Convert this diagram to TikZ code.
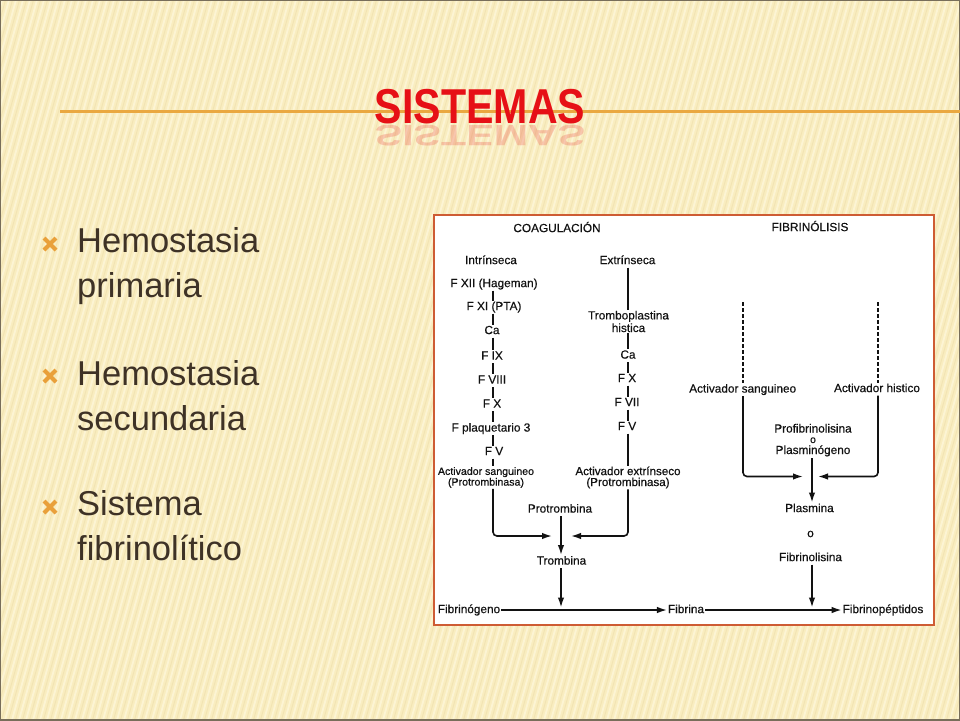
\documentclass[tikz,border=0pt]{standalone}
\usepackage{fontspec}
\setmainfont{Liberation Sans}
\newfontfamily\scanfont[FakeBold=0.45]{Liberation Sans}
\usetikzlibrary{arrows.meta}
\definecolor{bgcol}{RGB}{249,237,192}
\definecolor{stripecol}{RGB}{255,250,226}
\definecolor{stripedark}{RGB}{236,220,168}
\definecolor{titlered}{RGB}{230,16,22}
\definecolor{lineorange}{RGB}{234,168,64}
\definecolor{bulletorange}{RGB}{233,160,58}
\definecolor{bodytext}{RGB}{62,50,38}
\definecolor{framered}{RGB}{206,92,52}
\definecolor{slideedge}{RGB}{120,110,90}
\definecolor{ink}{RGB}{18,18,18}
\begin{document}
\begin{tikzpicture}[x=1pt,y=-1pt,
  dtext/.style={font=\scanfont\fontsize{11.8}{12}\selectfont, text=ink, inner sep=0.8pt, text height=8.6pt, text depth=2.4pt},
  dmulti/.style={font=\scanfont\fontsize{11.8}{12.6}\selectfont, text=ink, inner sep=0.8pt, align=center},
  dline/.style={font=\scanfont\fontsize{11.8}{12}\selectfont, text=ink, inner sep=0pt, anchor=base},
  link/.style={draw=ink, line width=1.6pt},
  arr/.style={draw=ink, line width=1.6pt, -{Latex[length=10pt,width=6.5pt]}},
  dashlink/.style={draw=ink, line width=1.8pt, dash pattern=on 4pt off 2pt},
  btext/.style={font=\fontsize{34.5}{36}\selectfont, text=bodytext, inner sep=0pt, anchor=base west},
  bmark/.style={draw=bulletorange, line width=4pt},
  stripe/.style={draw=stripecol, line width=1.8pt, opacity=0.6},
  stripeb/.style={draw=stripedark, line width=1pt, opacity=0.5},
  titlestyle/.style={font=\fontsize{49}{50}\bfseries\selectfont, text=titlered, anchor=base, inner sep=0pt},
]
\useasboundingbox (0,0) rectangle (960,720);
% background
\fill[bgcol] (0,0) rectangle (960,720);
\begin{scope}
  \clip (0,0) rectangle (960,720);
  \foreach \s in {-240,-233,...,960} {
    \draw[stripe] (\s,720) -- (\s+200,0);
    \draw[stripeb] (\s+3.5,720) -- (\s+203.5,0);
  }
\end{scope}
\draw[slideedge, line width=1.5pt] (0,0) rectangle (960,720);

% title
\draw[lineorange, line width=3pt] (60,111) -- (960,111);
\node[titlestyle, xscale=0.84] (title) at (480,123.5) {SISTEMAS};
\node[titlestyle, text opacity=0.2, xscale=0.84, yscale=-0.6] (titlerefl) at (480,125) {SISTEMAS};

% bullets
\foreach \y in {244,376,507} {
  \draw[bmark] (44,\y-6) -- (56,\y+6);
  \draw[bmark] (44,\y+6) -- (56,\y-6);
}
\node[btext] (b1a) at (77,252) {Hemostasia};
\node[btext] (b1b) at (77,297) {primaria};
\node[btext] (b2a) at (77,385) {Hemostasia};
\node[btext] (b2b) at (77,430) {secundaria};
\node[btext] (b3a) at (77,515) {Sistema};
\node[btext] (b3b) at (77,560) {fibrinolítico};

% diagram frame
\draw[framered, line width=1.2pt, fill=white] (434,215) rectangle (934,625);

% headings
\node[dtext] (coag) at (557,229) {COAGULACIÓN};
\node[dtext] (fibl) at (810,228) {FIBRINÓLISIS};

% intrinsic column
\coordinate (c1) at (493,300);
\node[dtext] (intr) at (491,261) {Intrínseca};
\node[dtext] (f12) at (494,284) {F XII (Hageman)};
\node[dtext] (f11) at (494,307) {F XI (PTA)};
\node[dtext] (ca1) at (492,331) {Ca};
\node[dtext] (f9) at (492,356.5) {F IX};
\node[dtext] (f8) at (492,380.5) {F VIII};
\node[dtext] (f10) at (492,404.5) {F X};
\node[dtext] (fp3) at (491,428.5) {F plaquetario 3};
\node[dtext] (fv1) at (494,452) {F V};
\node[dmulti, font=\scanfont\fontsize{10.6}{10.7}\selectfont] (acts) at (486,477.5) {Activador sanguineo\\(Protrombinasa)};

\draw[link] (f12.south -| c1) -- (f11.north -| c1);
\draw[link] (f11.south -| c1) -- (ca1.north -| c1);
\draw[link] (ca1.south -| c1) -- (f9.north -| c1);
\draw[link] (f9.south -| c1) -- (f8.north -| c1);
\draw[link] (f8.south -| c1) -- (f10.north -| c1);
\draw[link] (f10.south -| c1) -- (fp3.north -| c1);
\draw[link] (fp3.south -| c1) -- (fv1.north -| c1);
\draw[link] (fv1.south -| c1) -- (acts.north -| c1);

% extrinsic column
\coordinate (c2) at (628,300);
\node[dtext] (extr) at (627.5,261) {Extrínseca};
\node[dmulti] (tromb) at (628.5,321.5) {Tromboplastina\\histica};
\node[dtext] (ca2) at (628,355.5) {Ca};
\node[dtext] (f10b) at (627,379) {F X};
\node[dtext] (f7) at (627,403) {F VII};
\node[dtext] (fv2) at (627,427) {F V};
\node[dmulti, font=\scanfont\fontsize{11.6}{10.9}\selectfont] (acte) at (628,477.5) {Activador extrínseco\\(Protrombinasa)};

\draw[link] (extr.south -| c2) -- (tromb.north -| c2);
\draw[link] (tromb.south -| c2) -- (ca2.north -| c2);
\draw[link] (ca2.south -| c2) -- (f10b.north -| c2);
\draw[link] (f10b.south -| c2) -- (f7.north -| c2);
\draw[link] (f7.south -| c2) -- (fv2.north -| c2);
\draw[link] (fv2.south -| c2) -- (acte.north -| c2);

% prothrombin -> thrombin
\coordinate (m1) at (561,536);
\node[dtext] (protro) at (560,509.5) {Protrombina};
\node[dtext] (trombina) at (561.5,561.5) {Trombina};
\draw[arr, rounded corners=4pt] (acts.south -| c1) |- ([xshift=-9pt]m1);
\draw[arr, rounded corners=4pt] (acte.south -| c2) |- ([xshift=10pt]m1);
\draw[arr] (protro.south -| m1) -- (trombina.north -| m1);

% bottom line
\node[dtext] (fibgen) at (469,610) {Fibrinógeno};
\node[dtext] (fibrina) at (686,610) {Fibrina};
\node[dtext] (fpep) at (883,610) {Fibrinopéptidos};
\draw[arr] (fibgen.east) -- (fibrina.west);
\draw[arr] (fibrina.east) -- (fpep.west);
\draw[arr] (trombina.south -| m1) -- ([yshift=2.5pt]fibgen.center -| m1);

% fibrinolysis
\coordinate (dl) at (743,302);
\coordinate (dr) at (878,302);
\coordinate (m2) at (812,476.5);
\node[dtext] (asang) at (742.7,389.5) {Activador sanguineo};
\node[dtext] (ahist) at (877,389) {Activador histico};
\node[dline] (profib) at (813,432.5) {Profibrinolisina};
\node[dline, font=\scanfont\fontsize{10.5}{11}\selectfont] (profo) at (813,443) {o};
\node[dline] (plasmino) at (813,454) {Plasminógeno};
\node[dtext] (plasmina) at (809.5,509) {Plasmina};
\node[dtext] (o2) at (810.5,534) {o};
\node[dtext] (fibrinol) at (810.5,558) {Fibrinolisina};

\draw[dashlink] (dl) -- (dl |- asang.north);
\draw[dashlink] (dr) -- (dr |- ahist.north);
\draw[arr, rounded corners=4pt] (asang.south -| dl) |- ([xshift=-9pt]m2);
\draw[arr, rounded corners=4pt] (ahist.south -| dr) |- ([xshift=6pt]m2);
\draw[arr] ([yshift=-4pt]plasmino.base -| m2) -- (plasmina.north -| m2);
\draw[arr] (fibrinol.south -| m2) -- ([yshift=2.5pt]fpep.center -| m2);
\end{tikzpicture}
\end{document}
